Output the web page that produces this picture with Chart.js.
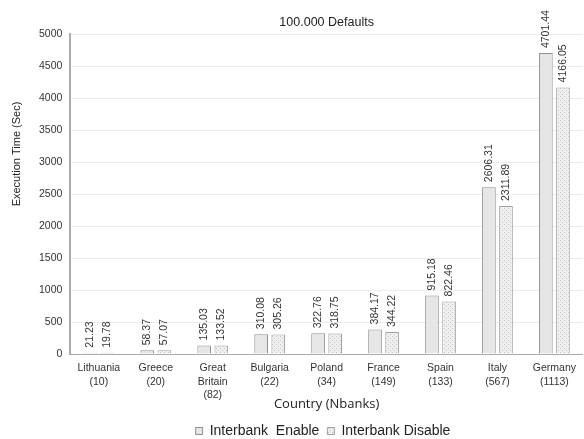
<!DOCTYPE html>
<html><head><meta charset="utf-8">
<script src="https://cdn.jsdelivr.net/npm/chart.js@4.4.0/dist/chart.umd.min.js"></script>
<style>html,body{margin:0;padding:0;background:#fff}#wrap{width:584px;height:439px;position:relative}</style>
</head><body><div id="wrap"><canvas id="c"></canvas></div>
<script>
const categories = [["Lithuania","(10)"],["Greece","(20)"],["Great","Britain","(82)"],["Bulgaria","(22)"],["Poland","(34)"],["France","(149)"],["Spain","(133)"],["Italy","(567)"],["Germany","(1113)"]];
const enableValues = [21.23,58.37,135.03,310.08,322.76,384.17,915.18,2606.31,4701.44];
const disableValues = [19.78,57.07,133.52,305.26,318.75,344.22,822.46,2311.89,4166.05];
const seriesNames = ["Interbank  Enable","Interbank Disable"];
const chartTitle = "100.000 Defaults";
const yTitle = "Execution Time (Sec)";
const xTitle = "Country (Nbanks)";

function makePattern(){
  const p=document.createElement('canvas');p.width=4;p.height=4;
  const g=p.getContext('2d');
  g.fillStyle='#efefef';g.fillRect(0,0,4,4);
  g.fillStyle='#c4c4c4';g.fillRect(0,0,1,1);g.fillRect(2,2,1,1);
  return g.createPattern(p,'repeat');
}
const pattern=makePattern();

const labelPlugin={id:'vals',afterDatasetsDraw(chart){
  const ctx=chart.ctx;ctx.save();
  ctx.font='10.5px "Liberation Sans", Arial, sans-serif';ctx.fillStyle='#333';
  chart.data.datasets.forEach((ds,i)=>{
    chart.getDatasetMeta(i).data.forEach((bar,j)=>{
      ctx.save();ctx.translate(bar.x,bar.y-5);ctx.rotate(-Math.PI/2);
      ctx.textAlign='left';ctx.textBaseline='middle';
      ctx.fillText(ds.data[j].toFixed(2),0,0);ctx.restore();
    });
  });
  const a=chart.chartArea;
  ctx.font='12.5px "Liberation Sans", Arial, sans-serif';ctx.fillStyle='#222';
  ctx.textAlign='center';ctx.textBaseline='middle';
  ctx.fillText(chartTitle,(a.left+a.right)/2,23);
  // y-axis title
  ctx.font='11px "Liberation Sans", Arial, sans-serif';
  ctx.translate(17,a.top+120);ctx.rotate(-Math.PI/2);
  ctx.fillText(yTitle,0,0);
  ctx.restore();
}};
const legendShift={id:'legendShift',afterLayout(chart){ if(chart.legend){chart.legend.left+=27;} }};

new Chart(document.getElementById('c'),{
  type:'bar',
  data:{labels:categories,datasets:[
    {label:seriesNames[0],data:enableValues,backgroundColor:'#e6e6e6',borderColor:'#8f8f8f',borderWidth:1,categoryPercentage:0.6,barPercentage:0.8},
    {label:seriesNames[1],data:disableValues,backgroundColor:pattern,borderColor:'#a0a0a0',borderWidth:1,categoryPercentage:0.6,barPercentage:0.8}
  ]},
  options:{responsive:true,maintainAspectRatio:false,animation:false,
    layout:{padding:{top:34,right:-4,left:31,bottom:-9}},
    plugins:{tooltip:{enabled:false},title:{display:false},
      legend:{position:'bottom',labels:{boxWidth:7,boxHeight:7,padding:8,color:'#222',font:{family:'"Liberation Sans", Arial, sans-serif',size:14}}}},
    scales:{
      x:{grid:{display:false,drawTicks:false},border:{color:'#aaa',width:1},
        ticks:{color:'#333',padding:8,maxRotation:0,autoSkip:false,font:{family:'"Liberation Sans", Arial, sans-serif',size:10.5,lineHeight:1.25}},
        title:{display:true,text:xTitle,color:'#222',padding:{top:-13,bottom:4},font:{family:'"Open Sans", sans-serif',size:13}}},
      y:{min:0,max:5000,ticks:{stepSize:500,color:'#333',padding:8,callback:v=>String(v),font:{family:'"Liberation Sans", Arial, sans-serif',size:10.5}},
        grid:{color:'#ececec',drawTicks:false},border:{color:'#aaa',width:2},
        title:{display:false}}
    }
  },
  plugins:[labelPlugin,legendShift]
});
</script></body></html>
